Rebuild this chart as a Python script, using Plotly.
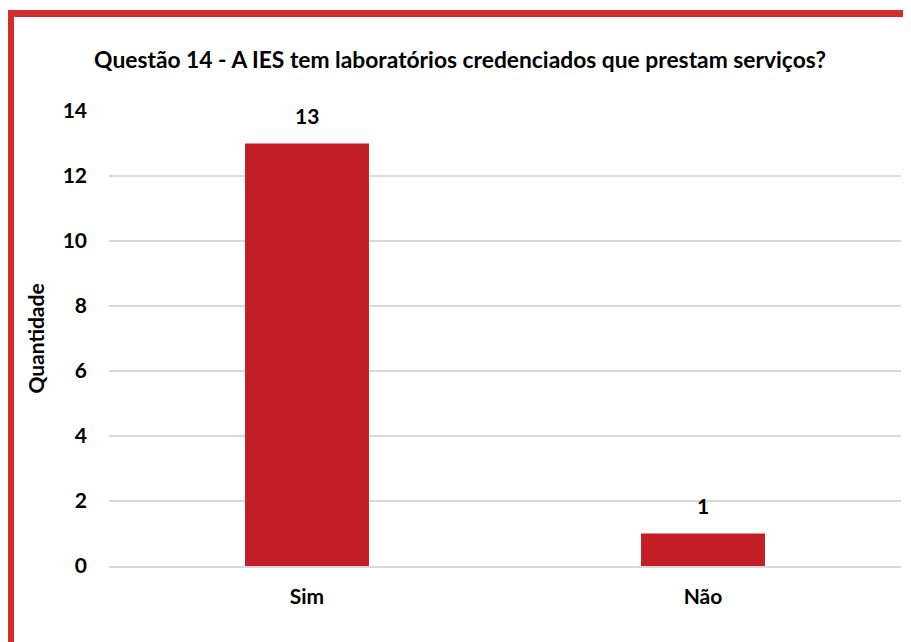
import plotly.graph_objects as go

# dados do gráfico
categorias = ["Sim", "Não"]
quantidades = [13, 1]
titulo = "Questão 14 - A IES tem laboratórios credenciados que prestam serviços?"

COR_BARRA = "#C41F26"
COR_BORDA = "#D22E30"
FONTE = "Lato"
TAM = 21

# a página tem 8px de margem no body; a figura é reduzida para caber
LARG, ALT = 903, 634

fig = go.Figure()
fig.add_trace(go.Bar(
    x=categorias,
    y=quantidades,
    marker=dict(color=COR_BARRA, line=dict(width=0)),
    width=0.313,
    hoverinfo="x+y",
))

# rótulos de dados acima das barras
for cat, val in zip(categorias, quantidades):
    fig.add_annotation(
        x=cat, y=val, text=f"<b>{val}</b>", showarrow=False,
        yanchor="bottom", yshift=14,
        font=dict(family=FONTE, size=TAM, color="#000000"),
    )

# moldura vermelha (esquerda e topo)
fig.add_shape(type="line", xref="paper", yref="paper",
              x0=-0.125, x1=-0.125, y0=-0.3, y1=1.2215,
              line=dict(color=COR_BORDA, width=8))
fig.add_shape(type="line", xref="paper", yref="paper",
              x0=-0.13, x1=1.1, y0=1.2143, y1=1.2143,
              line=dict(color=COR_BORDA, width=7))

fig.update_layout(
    width=LARG,
    height=ALT,
    margin=dict(l=101, r=10, t=103, b=76),
    paper_bgcolor="white",
    plot_bgcolor="white",
    showlegend=False,
    font=dict(family=FONTE, color="#000000"),
    title=dict(
        text=f"<b>{titulo}</b>",
        x=452 / LARG, xanchor="center", xref="container",
        y=1 - 52 / ALT, yanchor="middle", yref="container",
        font=dict(family=FONTE, size=22.8, color="#000000"),
    ),
    bargap=0.687,
)

fig.update_yaxes(
    range=[0, 14],
    dtick=2,
    showgrid=True,
    gridcolor="#D9D9D9",
    gridwidth=1.5,
    zeroline=False,
    showline=False,
    ticklabelstandoff=21,
    tickfont=dict(family=FONTE, size=TAM, color="#000000"),
    tickprefix="<b>", ticksuffix="</b>",
    title=dict(text="<b>Quantidade</b>", standoff=12,
               font=dict(family=FONTE, size=TAM, color="#000000")),
)
fig.update_xaxes(
    showgrid=False,
    showline=True,
    linecolor="#D9D9D9",
    linewidth=1.5,
    ticklabelstandoff=11,
    tickfont=dict(family=FONTE, size=TAM, color="#000000"),
    tickprefix="<b>", ticksuffix="</b>",
)

fig.write_html("out.html")
